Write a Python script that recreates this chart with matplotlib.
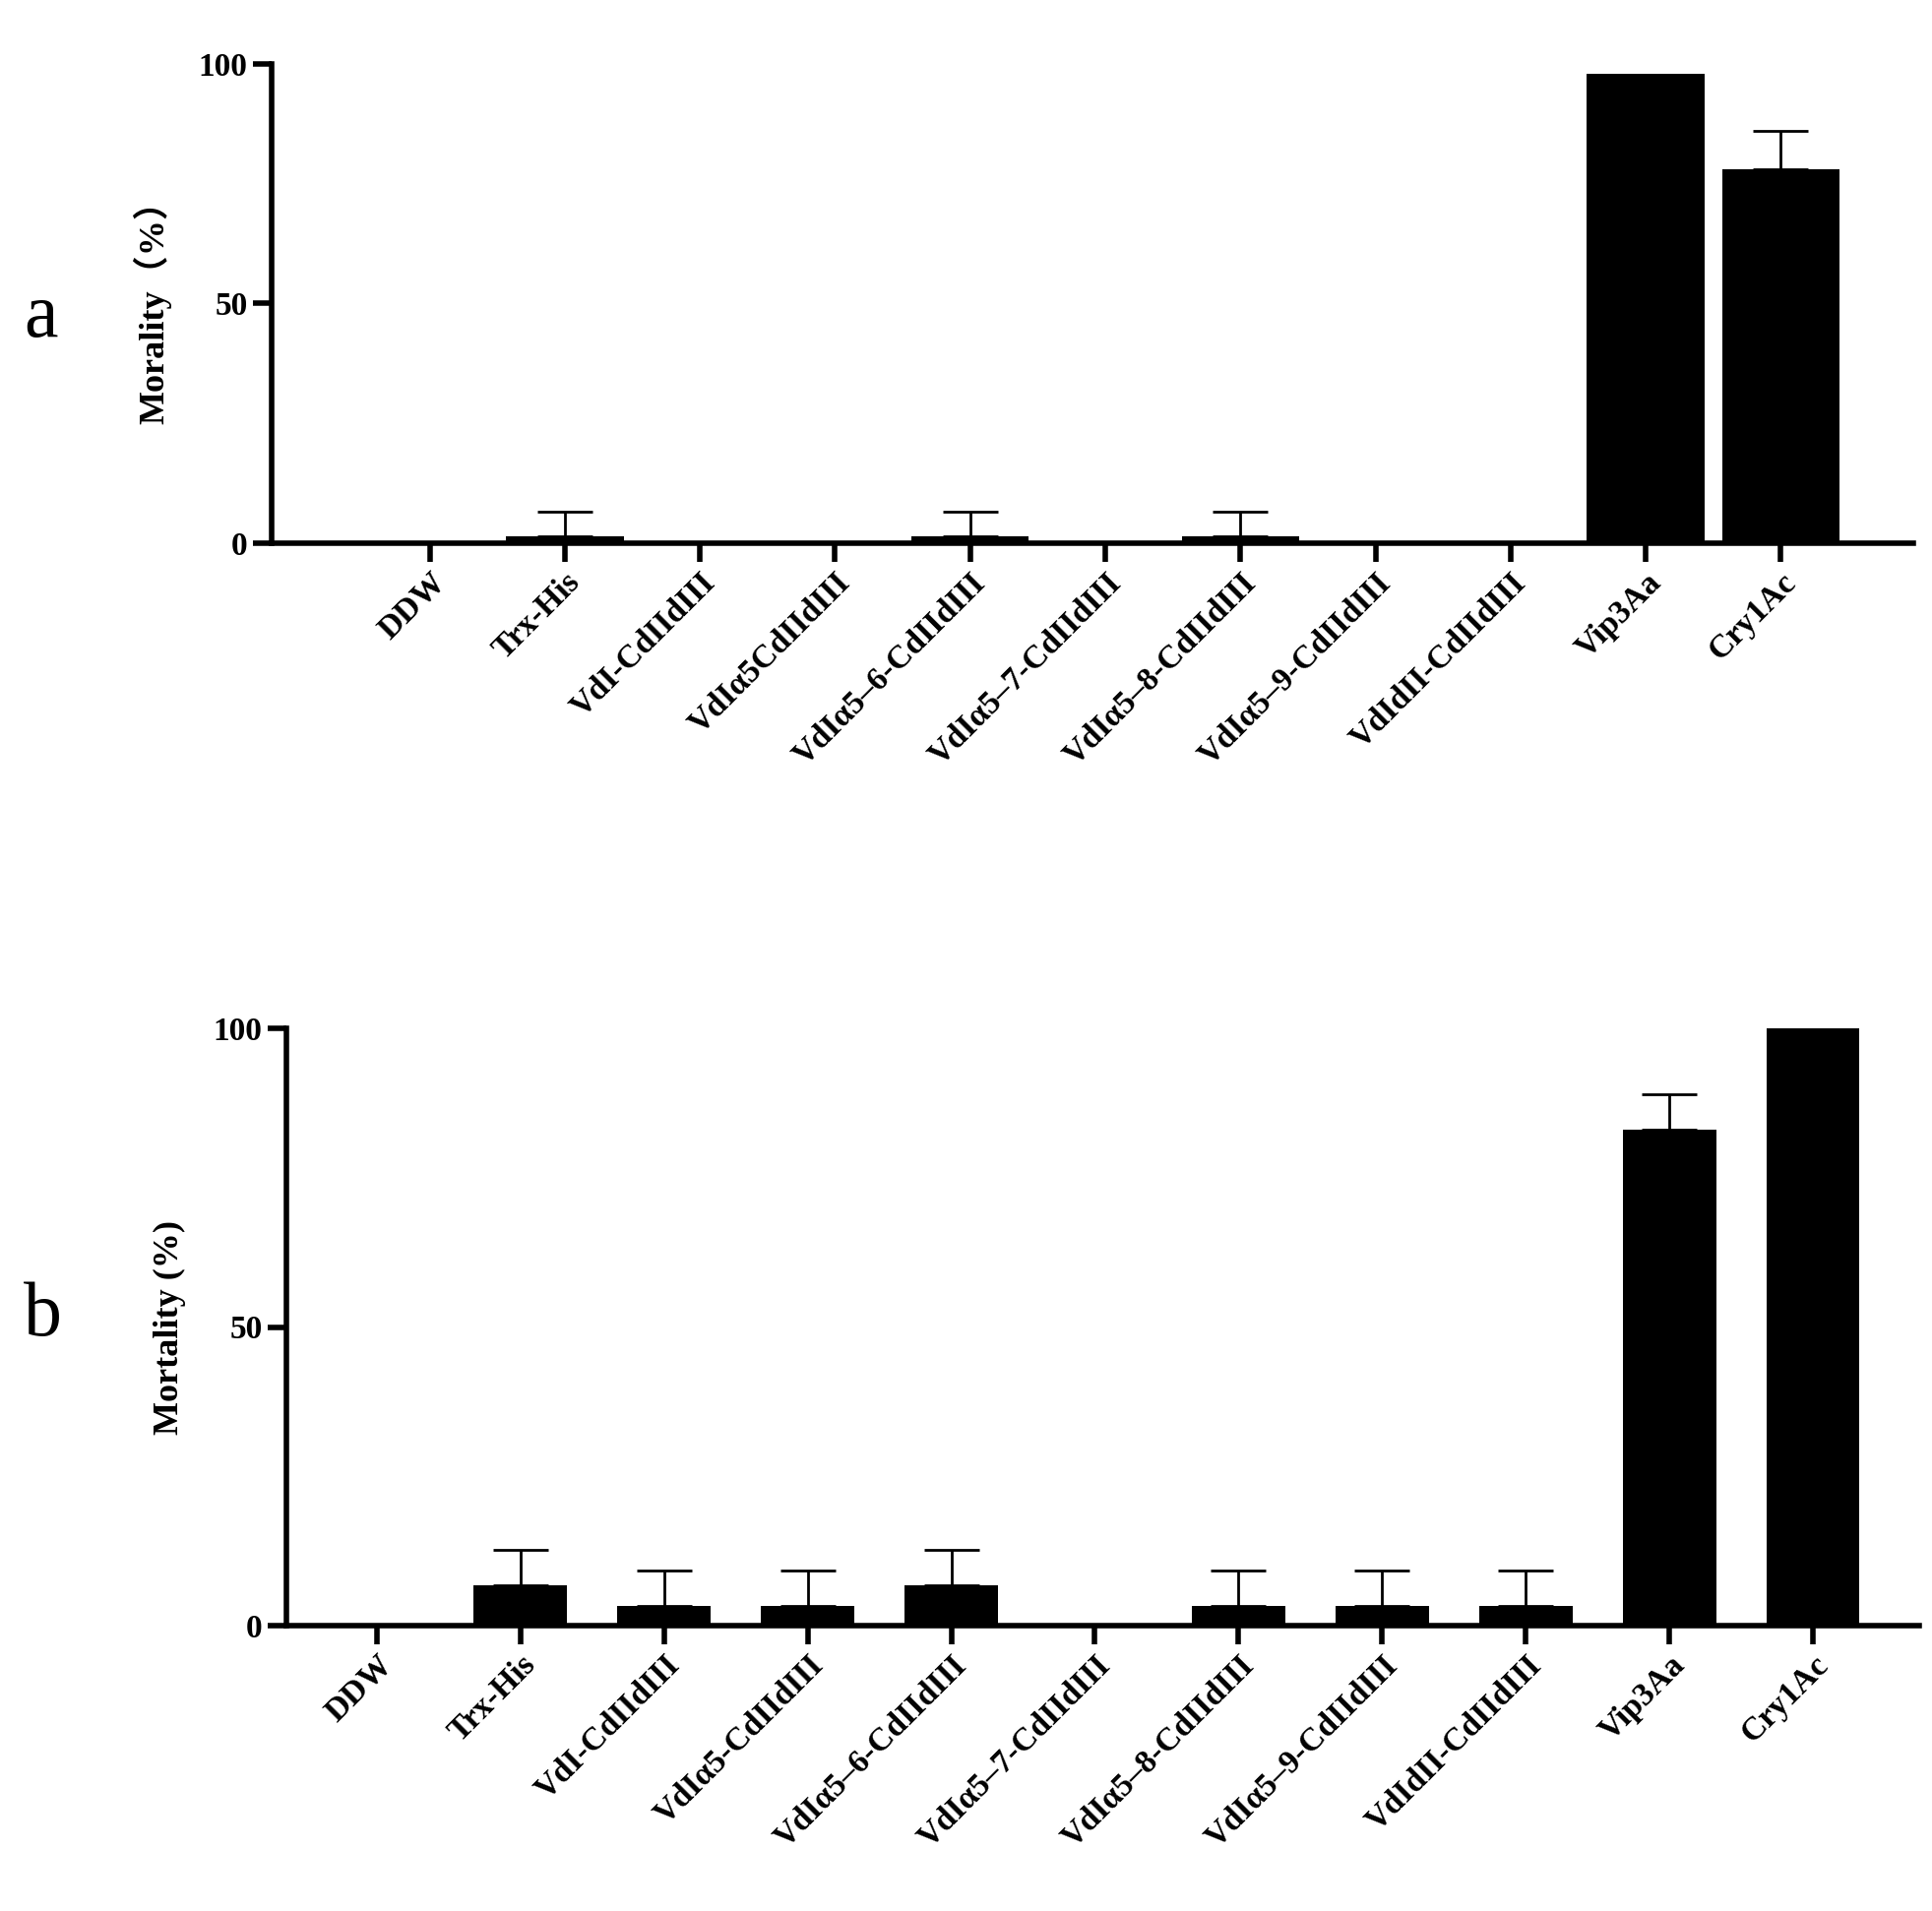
import matplotlib
matplotlib.use('Agg')
import matplotlib.pyplot as plt
import numpy as np

cats_a = ['DDW', 'Trx-His', 'VdI-CdIIdIII', 'VdIα5CdIIdIII', 'VdIα5–6-CdIIdIII',
          'VdIα5–7-CdIIdIII', 'VdIα5–8-CdIIdIII', 'VdIα5–9-CdIIdIII',
          'VdIdII-CdIIdIII', 'Vip3Aa', 'Cry1Ac']
vals_a = [0, 1.5, 0, 0, 1.5, 0, 1.5, 0, 0, 98, 78]
err_a = [0, 5, 0, 0, 5, 0, 5, 0, 0, 0, 8]

cats_b = ['DDW', 'Trx-His', 'VdI-CdIIdIII', 'VdIα5-CdIIdIII', 'VdIα5–6-CdIIdIII',
          'VdIα5–7-CdIIdIII', 'VdIα5–8-CdIIdIII', 'VdIα5–9-CdIIdIII',
          'VdIdII-CdIIdIII', 'Vip3Aa', 'Cry1Ac']
vals_b = [0, 6.7, 3.3, 3.3, 6.7, 0, 3.3, 3.3, 3.3, 83, 100]
err_b = [0, 6, 6, 6, 6, 0, 6, 6, 6, 6, 0]

serif = ['Liberation Serif', 'Noto Sans CJK SC']
plt.rcParams['font.family'] = serif
plt.rcParams['font.weight'] = 'bold'

W, H = 19.63, 19.42
fig = plt.figure(figsize=(W, H), dpi=100)

def panel(rect, cats, vals, errs, width, xlim, ylabel, letter, lpos):
    ax = fig.add_axes(rect)
    x = np.arange(len(cats))
    ax.bar(x, vals, width=width, color='black', zorder=2)
    for xi, v, e in zip(x, vals, errs):
        if e > 0:
            ax.errorbar(xi, v, yerr=[[0], [e]], fmt='none', ecolor='black',
                        elinewidth=2, capsize=20, capthick=2, zorder=1)
    ax.set_xlim(*xlim)
    ax.set_ylim(0, 100)
    ax.set_yticks([0, 50, 100])
    ax.set_xticks(x)
    ax.set_xticklabels(cats, rotation=45, ha='right', rotation_mode='anchor',
                       fontsize=24, fontweight='bold')
    for lab in ax.get_yticklabels():
        lab.set_fontsize(24)
        lab.set_fontweight('bold')
    ax.tick_params(axis='both', width=4, length=14, direction='out')
    ax.spines['top'].set_visible(False)
    ax.spines['right'].set_visible(False)
    ax.spines['left'].set_linewidth(4)
    ax.spines['bottom'].set_linewidth(4)
    ax.set_ylabel(ylabel, fontsize=26, fontweight='bold', labelpad=20)
    fig.text(lpos[0], lpos[1], letter, fontsize=56, fontweight='normal',
             ha='left', va='center')
    return ax

panel([276 / 1963, 1 - 552 / 1942, (1944 - 276) / 1963, (552 - 65) / 1942],
      cats_a, vals_a, err_a, 0.87, (-1.17, 10.98), 'Morality（%）', 'a',
      (24 / 1963, 1 - 323 / 1942))
panel([291 / 1963, 1 - 1652 / 1942, (1950 - 291) / 1963, (1652 - 1045) / 1942],
      cats_b, vals_b, err_b, 0.65, (-0.63, 10.74), 'Mortality (%)', 'b',
      (24 / 1963, 1 - 1338 / 1942))

fig.savefig('out.png', dpi=100, facecolor='white')
